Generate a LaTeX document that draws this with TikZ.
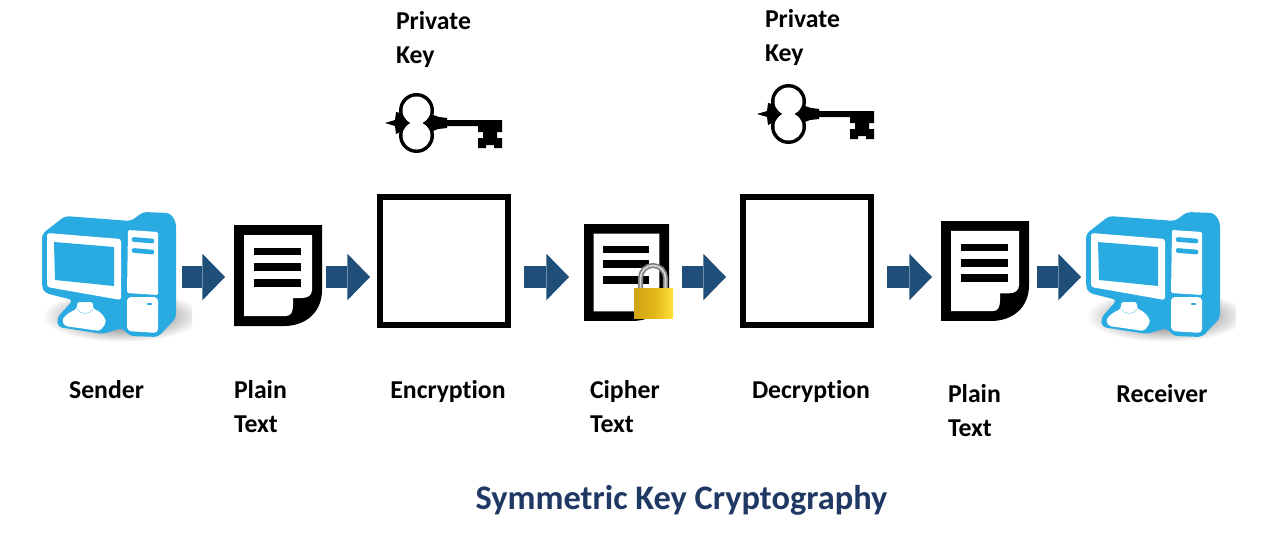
\documentclass[tikz,border=0pt]{standalone}
\usepackage{xcolor}
\usepackage{fontspec}
\setmainfont{Carlito}[Ligatures=NoCommon]
\usetikzlibrary{positioning,arrows.meta,calc}

\definecolor{pcblue}{HTML}{29ABE2}
\definecolor{flowblue}{HTML}{1F4E79}
\definecolor{titleblue}{HTML}{1F3864}
\definecolor{lockgold}{HTML}{E2B419}
\definecolor{lockdark}{HTML}{D0A415}
\definecolor{locklight}{HTML}{FFE23C}

\tikzset{
  pics/pc/.style={code={
    \begin{scope}
      \clip (-10,60) rectangle (150,150);
      \shade[inner color=black!70, outer color=white] (80,104) ellipse (80 and 26);
    \end{scope}
    \fill[pcblue, rounded corners=3pt] (0,22) -- (23,4) -- (89,9) -- (101,0) -- (128,1) -- (134,10)
      -- (134,106) -- (116,125) -- (88,124) -- (80,116) -- (61,122) -- (16,115) -- (15,106)
      -- (31,88) -- (3,81) -- (0,75) -- cycle;
    \fill[white, rounded corners=2pt] (5,21) -- (79,27) -- (79,88) -- (5,75) -- cycle;
    \fill[pcblue] (12,30) -- (72,35) -- (72,74) -- (13,68) -- cycle;
    \fill[white, rounded corners=1pt] (86,18) -- (116,20) -- (116,83) -- (85,81) -- cycle;
    \fill[white, rounded corners=3pt] (85,85) -- (116,85) -- (116,121) -- (85,119) -- cycle;
    \draw[pcblue, line width=3.5pt, line cap=round] (92,27.5) -- (110,29);
    \draw[pcblue, line width=3.5pt, line cap=round] (92,38.5) -- (110,40);
    \draw[pcblue, line width=2pt, line cap=round] (106,92) -- (109,92);
    \fill[white, rounded corners=2pt] (35,90) -- (51,90) -- (51,97) .. controls (58,99) and (63,105) .. (64,111)
      -- (58,119) -- (23,114) -- (20,109) .. controls (23,103) and (30,99) .. (35,97) -- cycle;
    \draw[pcblue!50, line width=0.5pt] (35,97) .. controls (38,103) and (48,103) .. (51,97);
  }},
  pics/sheet/.style={code={
    \fill[black] (0,0) -- (88,0) -- (88,65) .. controls (88,87) and (72,101) .. (50,101) -- (0,101) -- cycle;
    \fill[white] (10,10) -- (78,10) -- (78,65) .. controls (78,70) and (74,73) .. (68,73) -- (59,73) -- (59,80)
      .. controls (59,87) and (57,91) .. (52,91) -- (10,91) -- cycle;
    \fill[black] (20,23) rectangle (67,30);
    \fill[black] (20,38) rectangle (67,46);
    \fill[black] (20,54) rectangle (67,62);
  }},
  pics/key/.style={code={
    \fill[black] (31.5,17.5) circle (17.5);
    \fill[black] (31.5,42.5) circle (17.5);
    \fill[white] (31.5,17.5) circle (14);
    \fill[white] (31.5,42.5) circle (14);
    \fill[black] (0,30) -- (10,27) -- (11,19) -- (15,20) -- (24,30) -- (15,39) -- (11,41) -- (10,33) -- cycle;
    \fill[black] (38,30) -- (48,22) -- (54,24) -- (62,25) -- (62,27) -- (117,27) -- (117,33) -- (117,39) -- (112,39) -- (112,45)
      -- (117,45) -- (117,55) -- (109,55) -- (109,52) -- (101,52) -- (101,55) -- (93,55) -- (93,45) -- (98,45)
      -- (98,39) -- (93,39) -- (93,33) -- (62,33) -- (62,35) -- (53,36) -- (48,38) -- cycle;
  }},
  pics/padlock/.style={code={
    \draw[black!50, line width=3.8pt] (6.5,26) -- (6.5,15) arc[start angle=180, end angle=360, radius=12.5] -- (31.5,26);
    \draw[black!15, line width=1.2pt] (6.5,26) -- (6.5,15) arc[start angle=180, end angle=360, radius=12.5] -- (31.5,26);
    \shade[left color=lockdark, right color=locklight, middle color=lockgold] (0,25) rectangle (39,55);
  }},
}

\begin{document}
\begin{tikzpicture}[
  x=0.75pt, y=-0.75pt,
  every node/.style={font=\fontsize{19.3}{25.5}\selectfont\bfseries, inner sep=0pt, outer sep=0pt},
  lbl/.style={align=left, anchor=west},
  lblc/.style={anchor=center},
  icon/.style={minimum height=75.75pt},
  cryptbox/.style={draw, line width=4.5pt, minimum width=96pt, minimum height=96pt},
  flow/.style={draw=flowblue, line width=16.5pt,
               -{Triangle[length=17pt, width=35pt, line width=0pt, color=flowblue]}},
]
  \useasboundingbox (0,0) rectangle (1267,535);

  \coordinate (level) at (0,277);

  % invisible boxes round the pictures
  \node[icon, minimum width=105pt] (sender) at (112,275.5) {};
  \node[icon, minimum width=66pt] (plainA) at (278,275.5) {};
  \node[cryptbox] (encBox) at (444,261) {};
  \node[icon, minimum width=66pt] (cipher) at (627,275.5) {};
  \node[cryptbox] (decBox) at (807,261) {};
  \node[icon, minimum width=66pt] (plainB) at (985,271) {};
  \node[icon, minimum width=105pt] (receiver) at (1156,275.5) {};

  \pic at (42,212) {pc};
  \pic at (1086,212) {pc};
  \pic at (234,225) {sheet};
  \pic[xscale=0.966, yscale=0.96] at (584,224) {sheet};
  \pic[xscale=1, yscale=0.99] at (941,221) {sheet};
  \pic at (634,263) {padlock};
  \pic at (385,93) {key};
  \pic at (757,84) {key};

  \draw[flow] (sender.east |- level) -- ($(plainA.west |- level)+(-9,0)$);
  \draw[flow] ($(plainA.east |- level)+(4,0)$) -- ($(encBox.west |- level)+(-10,0)$);
  \draw[flow] ($(encBox.east |- level)+(16,0)$) -- ($(cipher.west |- level)+(-14,0)$);
  \draw[flow] ($(cipher.east |- level)+(11,0)$) -- ($(decBox.west |- level)+(-17,0)$);
  \draw[flow] ($(decBox.east |- level)+(16,0)$) -- ($(plainB.west |- level)+(-9,0)$);
  \draw[flow] ($(plainB.east |- level)+(8,0)$) -- ($(receiver.west |- level)+(-5,0)$);

  \node[lbl] (keyA) at (396,39) {Private\\Key};
  \node[lbl] (keyB) at (765,37) {Private\\Key};

  \node[lblc] (senderTxt) at (106.5,390) {Sender};
  \node[lbl] (plainATxt) at (234,407) {Plain\\Text};
  \node[lblc] (encTxt) at (448,391) {Encryption};
  \node[lbl] (cipherTxt) at (590,407) {Cipher\\Text};
  \node[lblc] (decTxt) at (811,391) {Decryption};
  \node[lbl] (plainBTxt) at (948,411) {Plain\\Text};
  \node[lblc] (receiverTxt) at (1162,394) {Receiver};

  \node[lblc, text=titleblue, font=\fontsize{25.8}{30}\selectfont\bfseries] (title) at (681.5,500) {Symmetric Key Cryptography};
\end{tikzpicture}
\end{document}
